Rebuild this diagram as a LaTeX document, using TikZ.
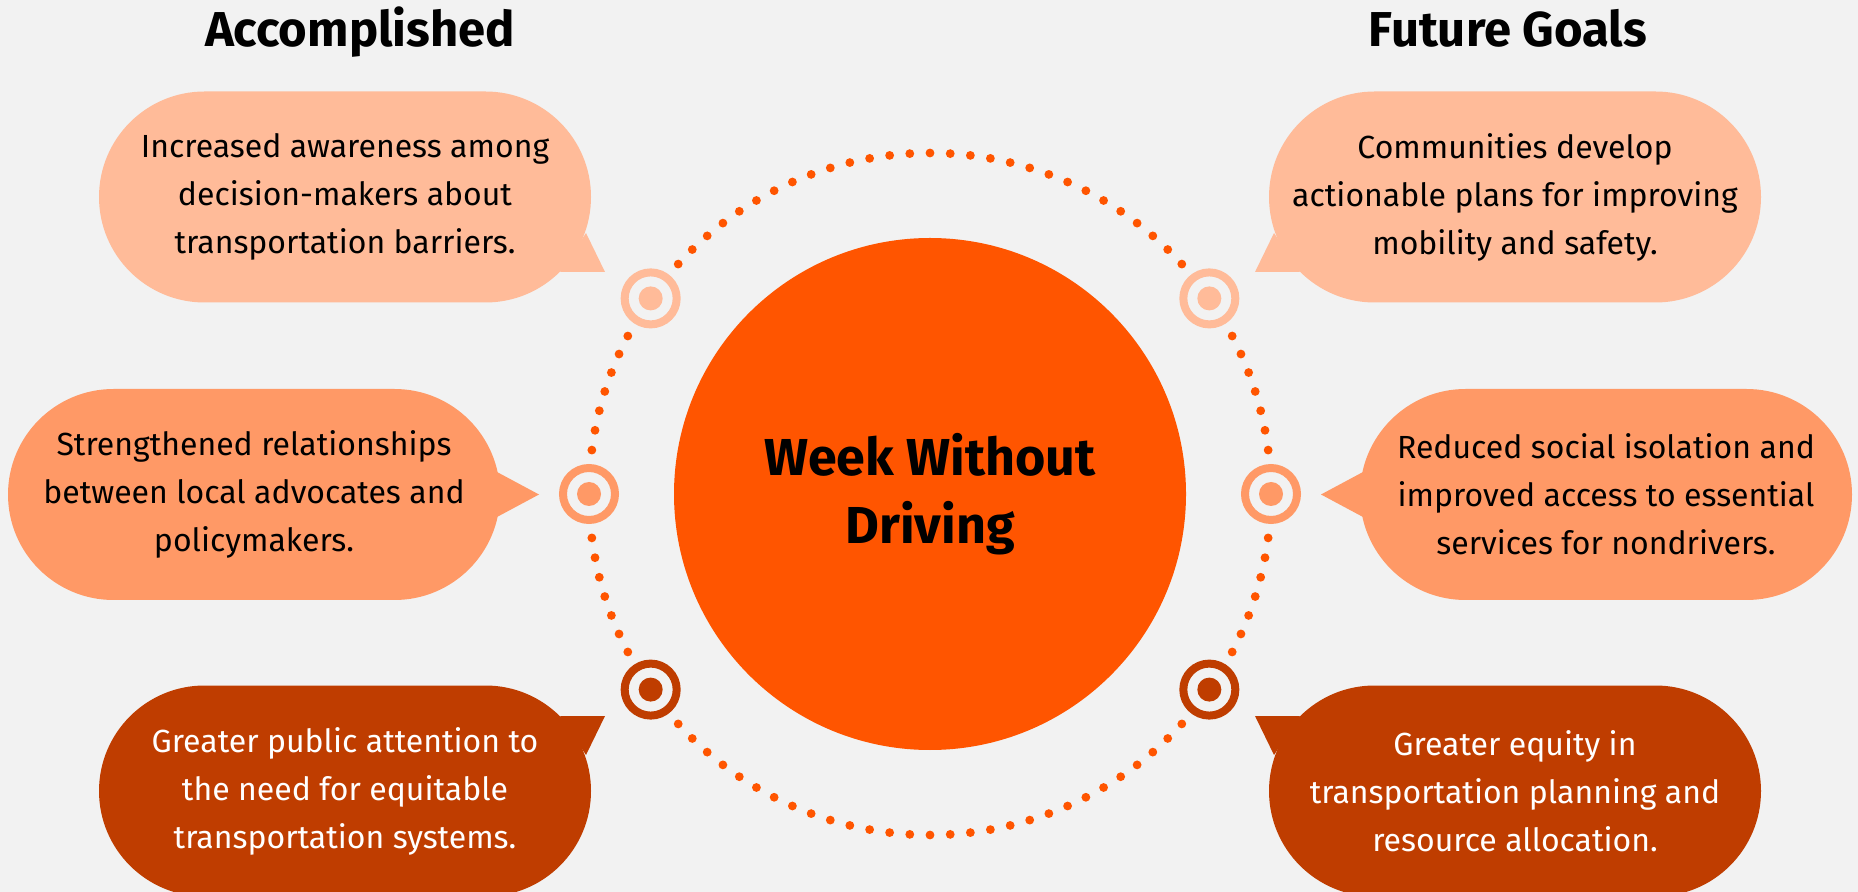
\documentclass[tikz,border=0pt]{standalone}
\usepackage{fontspec}
\setmainfont{Fira Sans}
\usetikzlibrary{shapes.misc,calc}

\definecolor{bg}{HTML}{F2F2F2}
\definecolor{peach}{HTML}{FFBB99}
\definecolor{apricot}{HTML}{FF9966}
\definecolor{rust}{HTML}{BF3D00}
\definecolor{flame}{HTML}{FF5500}

\tikzset{
  bubble/.style={rounded rectangle, fill=#1, minimum width=246pt, minimum height=105.5pt,
    inner sep=0pt, align=center, font=\fontsize{16}{24}\selectfont},
  heading/.style={anchor=base, font=\fontsize{24.5}{28}\selectfont\bfseries},
  target/.style={circle, draw=#1, line width=4pt, minimum size=26pt, inner sep=0pt},
}

\begin{document}
\begin{tikzpicture}[x=0.5pt, y=-0.5pt]
\fill[bg] (0,0) rectangle (1858,892);
\useasboundingbox (0,0) rectangle (1858,892);

\coordinate (O) at (930,494);

% dotted ring, broken at the targets
\foreach \a/\b in {35/145, 145/180, 180/215, 215/325, -35/0, 0/35} {
  \pgfmathsetmacro{\s}{\a+7.4}
  \pgfmathsetmacro{\e}{\b-7.4}
  \pgfmathtruncatemacro{\n}{round((\e-\s)/3.36)}
  \foreach \k in {0,...,\n}
    \fill[flame] ($(O)+({\s+\k*(\e-\s)/\n}:341)$) circle (2.2pt);
}

\node[circle, fill=flame, minimum size=256pt, inner sep=0pt, align=center,
  font=\fontsize{26}{34}\selectfont\bfseries] (hub) at (O) {Week Without\\Driving};

\node[heading] (done) at (360,47) {Accomplished};
\node[heading] (goals) at (1508,47) {Future Goals};

% targets on the ring (y points down)
\foreach \name/\ang/\col in {tA/215/peach, tB/180/apricot, tC/145/rust,
                             tD/-35/peach, tE/0/apricot, tF/35/rust} {
  \node[target=\col] (\name) at ($(O)+(\ang:341)$) {};
  \fill[\col] (\name) circle (6pt);
}

% left bubbles
\node[bubble=peach] (b1) at (345,197) {Increased awareness among\\decision-makers about\\transportation barriers.};
\fill[peach] ($(b1.center)+(215,75)$) -- ($(b1.center)+(260,75)$) -- ($(b1.center)+(241,36)$) -- cycle;

\node[bubble=apricot] (b2) at (254,494.5) {Strengthened relationships\\between local advocates and\\policymakers.};
\fill[apricot] ($(b2.center)+(243,-22.5)$) -- ($(b2.center)+(285,0)$) -- ($(b2.center)+(243,22.5)$) -- cycle;

\node[bubble=rust, text=white] (b3) at (345,791) {Greater public attention to\\the need for equitable\\transportation systems.};
\fill[rust] ($(b3.center)+(215,-75)$) -- ($(b3.center)+(260,-75)$) -- ($(b3.center)+(241,-36)$) -- cycle;

% right bubbles
\node[bubble=peach] (b4) at (1515,197) {Communities develop\\actionable plans for improving\\mobility and safety.};
\fill[peach] ($(b4.center)+(-215,75)$) -- ($(b4.center)+(-260,75)$) -- ($(b4.center)+(-241,36)$) -- cycle;

\node[bubble=apricot] (b5) at (1606,494.5) {Reduced social isolation and\\improved access to essential\\services for nondrivers.};
\fill[apricot] ($(b5.center)+(-243,-22.5)$) -- ($(b5.center)+(-285,0)$) -- ($(b5.center)+(-243,22.5)$) -- cycle;

\node[bubble=rust, text=white] (b6) at (1515,791) {Greater equity in\\transportation planning and\\resource allocation.};
\fill[rust] ($(b6.center)+(-215,-75)$) -- ($(b6.center)+(-260,-75)$) -- ($(b6.center)+(-241,-36)$) -- cycle;

\end{tikzpicture}
\end{document}
